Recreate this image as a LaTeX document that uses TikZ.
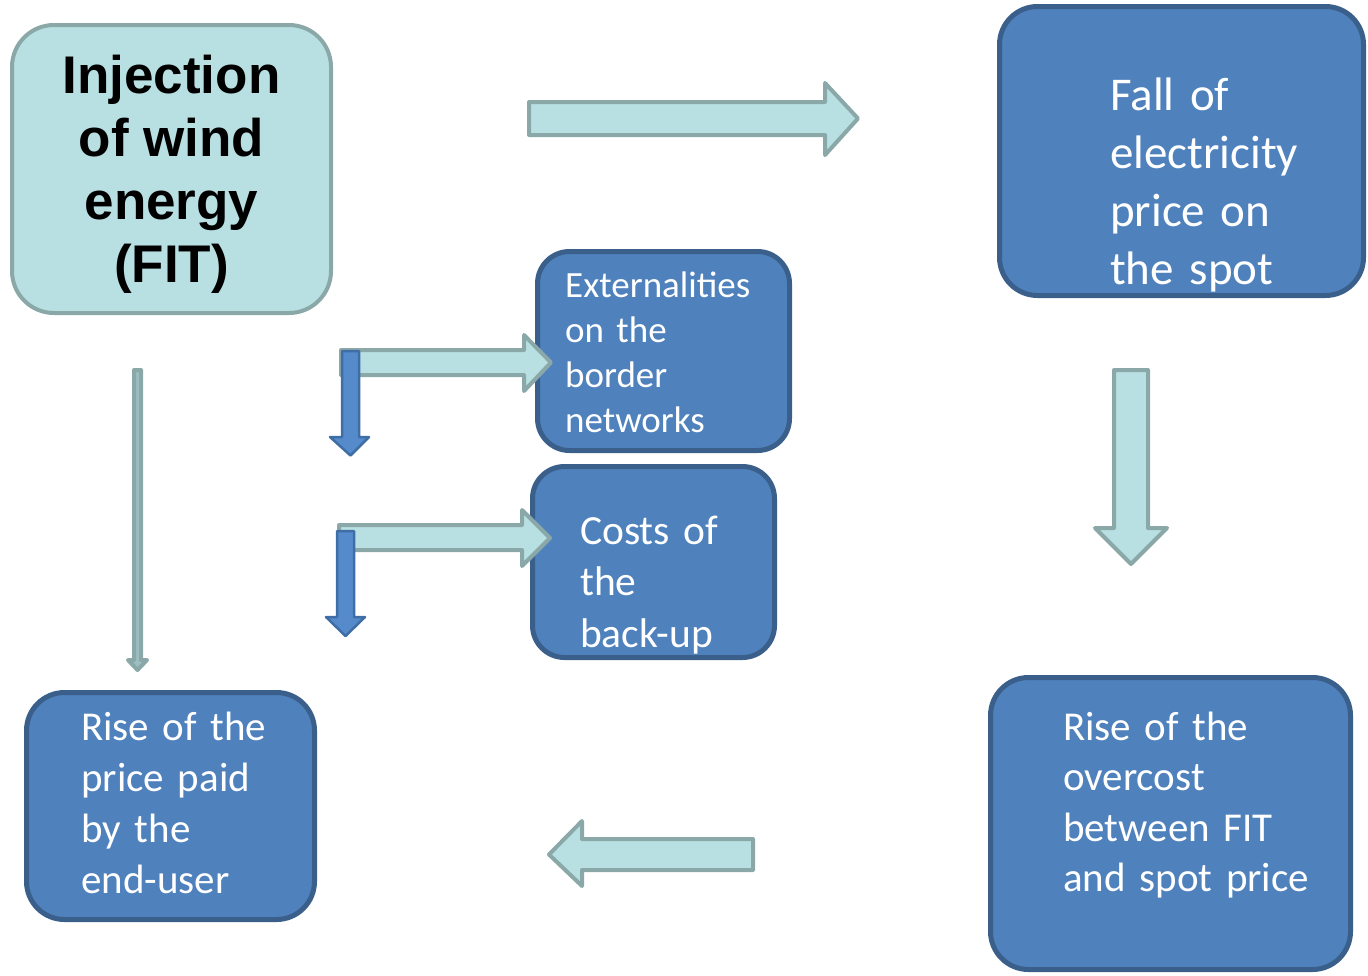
\documentclass[tikz,border=0pt]{standalone}
\usepackage{fontspec}
\setmainfont{Carlito}[WordSpace=0.8]
\newfontfamily\headfont{Liberation Sans}
\usetikzlibrary{positioning}
\definecolor{boxblue}{HTML}{4F81BD}
\definecolor{boxedge}{HTML}{3A5F8B}
\definecolor{paleteal}{HTML}{B8DFE2}
\definecolor{tealedge}{HTML}{8BA8A9}
\definecolor{dropblue}{HTML}{568BCB}
\definecolor{dropedge}{HTML}{3F6EA6}

\begin{document}
\begin{tikzpicture}[x=1pt,y=-1pt]
		\tikzstyle{bluebox}=[draw=boxedge,fill=boxblue,line width=5pt,rounded corners=38pt]
		\tikzstyle{palebox}=[draw=tealedge,fill=paleteal,line width=4pt,rounded corners=42pt]
		\tikzstyle{bluetext}=[text=white,inner sep=0pt,text width=320pt,align=left,anchor=base west]
		\tikzstyle{tealarrow}=[draw=tealedge,fill=paleteal,line width=4pt,line join=round]
		\tikzstyle{droparrow}=[draw=dropedge,fill=dropblue,line width=2.5pt,line join=round]
		\useasboundingbox (0,0) rectangle (1368,975);
		% boxes
		\node[palebox,minimum width=319pt,minimum height=288pt] (wind) at (171.5,169) {};
		\node[bluebox,minimum width=364pt,minimum height=289pt] (fall) at (1181.5,151) {};
		\node[bluebox,rounded corners=32pt,minimum width=252pt,minimum height=199pt] (border) at (663.5,351) {};
		\node[bluebox,rounded corners=32pt,minimum width=242pt,minimum height=191pt] (backup) at (653.5,562) {};
		\node[bluebox,minimum width=288pt,minimum height=227pt] (enduser) at (170.5,806) {};
		\node[bluebox,minimum width=360pt,minimum height=292pt] (overcost) at (1170.5,823.5) {};
		% texts
		\node[inner sep=0pt,align=center,font=\headfont\bfseries\fontsize{53}{63}\selectfont] (windTxt) at (171.5,174) {Injection\\of wind\\energy\\(FIT)};
		\node[bluetext,font=\fontsize{47}{58}\selectfont] (fallTxt) at (1110,110) {Fall of\\electricity\\price on\\the spot};
		\node[bluetext,font=\fontsize{37}{45}\selectfont] (borderTxt) at (565,297) {Externalities\\on the\\border\\networks};
		\node[bluetext,font=\fontsize{41.5}{51.5}\selectfont] (backupTxt) at (580,544) {Costs of\\the\\back-up};
		\node[bluetext,font=\fontsize{41}{51}\selectfont] (enduserTxt) at (81,740) {Rise of the\\price paid\\by the\\end-user};
		\node[bluetext,font=\fontsize{41}{50.5}\selectfont] (overcostTxt) at (1063,740) {Rise of the\\overcost\\between FIT\\and spot price};
		% block arrows
		\draw[tealarrow] (529,102) -- (825,102) -- (825,83) -- (858,118.5) -- (825,155) -- (825,135) -- (529,135) -- cycle;
		\draw[tealarrow] (1114,370) -- (1148,370) -- (1148,528) -- (1167,528) -- (1131,564) -- (1095,528) -- (1114,528) -- cycle;
		\draw[tealarrow] (753,839) -- (582,839) -- (582,821) -- (549,854.5) -- (582,886) -- (582,870) -- (753,870) -- cycle;
		\draw[tealarrow,fill=tealedge!60!paleteal] (134,370) -- (141,370) -- (141,660) -- (147,660) -- (137.5,670) -- (128,660) -- (134,660) -- cycle;
		\draw[tealarrow] (341,350) -- (524,350) -- (524,335) -- (551,362.5) -- (524,391) -- (524,375) -- (341,375) -- cycle;
		\draw[tealarrow] (339,525) -- (522,525) -- (522,510) -- (550,538) -- (522,566) -- (522,550) -- (339,550) -- cycle;
		\draw[droparrow] (342,351) -- (359,351) -- (359,437) -- (369,437) -- (350.5,455.5) -- (330,437) -- (342,437) -- cycle;
		\draw[droparrow] (337,531) -- (354,531) -- (354,617) -- (365,617) -- (345.5,636) -- (326,617) -- (337,617) -- cycle;
	\end{tikzpicture}
\end{document}
